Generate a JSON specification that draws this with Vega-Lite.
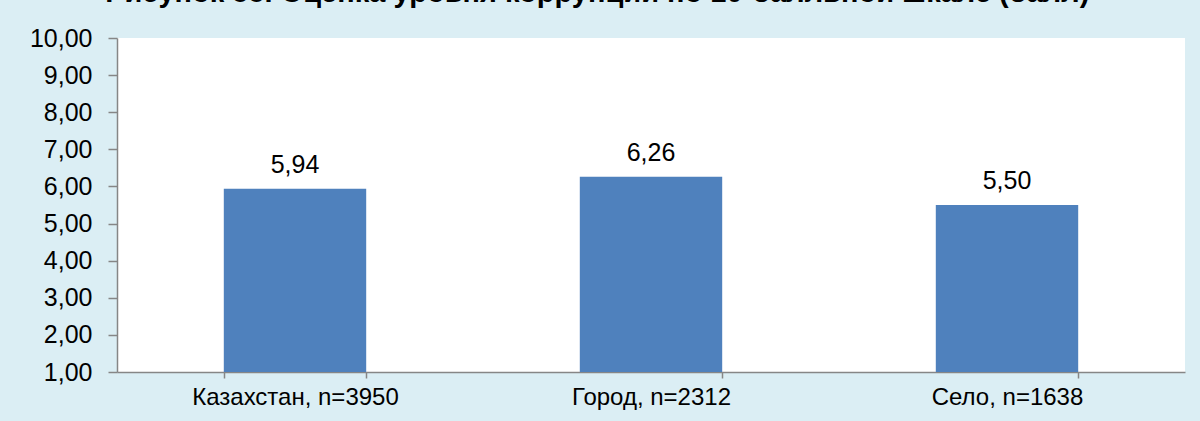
{
  "$schema": "https://vega.github.io/schema/vega-lite/v6.json",
  "autosize": {"type": "none"},
  "width": 1068,
  "height": 334,
  "padding": {"left": 117, "top": 38, "right": 15, "bottom": 49},
  "background": "#DBEEF4",
  "title": {
    "text": "Рисунок 55. Оценка уровня коррупции по 10-балльной шкале (балл)",
    "font": "Liberation Sans",
    "fontSize": 29,
    "fontWeight": "bold",
    "color": "#000000",
    "anchor": "middle",
    "frame": "bounds",
    "baseline": "alphabetic",
    "offset": 16,
    "dx": -10,
    "dy": 21
  },
  "data": {
    "values": [
      {"cat": "Казахстан, n=3950", "value": 5.94},
      {"cat": "Город, n=2312", "value": 6.26},
      {"cat": "Село, n=1638", "value": 5.5}
    ]
  },
  "encoding": {
    "x": {
      "field": "cat",
      "type": "nominal",
      "sort": null,
      "scale": {"paddingInner": 0.6, "paddingOuter": 0.3},
      "axis": {
        "title": null,
        "labelAngle": 0,
        "labelFont": "Liberation Sans",
        "labelFontSize": 24,
        "labelLimit": 0,
        "labelColor": "#000000",
        "labelPadding": 7,
        "tickBand": "extent",
        "tickSize": 6,
        "tickColor": "#868686",
        "domainColor": "#868686",
        "domainWidth": 1.5,
        "tickWidth": 1.5
      }
    },
    "y": {
      "field": "value",
      "type": "quantitative",
      "scale": {"domain": [1, 10], "nice": false, "zero": false},
      "axis": {
        "title": null,
        "values": [1, 2, 3, 4, 5, 6, 7, 8, 9, 10],
        "format": ".2f",
        "grid": false,
        "labelFont": "Liberation Sans",
        "labelFontSize": 25,
        "labelColor": "#000000",
        "labelPadding": 16,
        "tickSize": 9,
        "tickColor": "#868686",
        "domainColor": "#868686",
        "domainWidth": 1.5,
        "tickWidth": 1.5
      }
    }
  },
  "layer": [
    {
      "mark": {"type": "bar", "color": "#4F81BD"},
      "encoding": {"y2": {"datum": 1}}
    },
    {
      "mark": {
        "type": "text",
        "font": "Liberation Sans",
        "fontSize": 25,
        "color": "#000000",
        "baseline": "alphabetic",
        "dy": -16
      },
      "encoding": {"text": {"field": "value", "type": "quantitative", "format": ".2f"}}
    }
  ],
  "config": {
    "view": {"fill": "#FFFFFF", "stroke": null},
    "locale": {
      "number": {
        "decimal": ",",
        "thousands": " ",
        "grouping": [3],
        "currency": ["", ""]
      }
    }
  }
}
